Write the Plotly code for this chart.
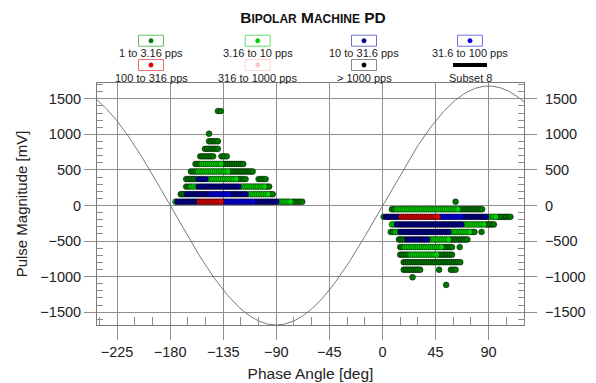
import numpy as np
import plotly.graph_objects as go

# ---------------- data ----------------
TITLE = "BIPOLAR MACHINE PD"
X_TITLE = "Phase Angle [deg]"
Y_TITLE = "Pulse Magnitude [mV]"
X_TICKS = [-225, -180, -135, -90, -45, 0, 45, 90]
Y_TICKS = [-1500, -1000, -500, 0, 500, 1000, 1500]

CATEGORY_LABELS = ["1 to 3.16 pps", "3.16 to 10 pps", "10 to 31.6 pps", "31.6 to 100 pps",
                   "100 to 316 pps", "316 to 1000 pps", "> 1000 pps", "Subset 8"]

PHASE_STEP = 1.8          # deg per phase bin
SINE_AMPLITUDE = 1680     # mV, reference sine

# runs of occupied phase bins: (amplitude bin centre [mV], first phase [deg], last phase [deg])
runs_1_to_3 = [
    (1328, -139.5, -137), (1009, -147, -147), (903, -147, -139.5), (797, -150.5, -139.5),
    (691, -154.5, -143.5), (691, -136.5, -132),
    (584, -158.5, -155), (584, -135, -118),
    (478, -162.4, -158), (478, -129, -110),
    (372, -166.4, -158), (372, -122, -116), (372, -105, -99),
    (266, -166.4, -164), (266, -98, -96),
    (159, -171, -168), (159, -95, -93),
    (53, -76, -68), (53, 62, 62),
    (-53, 8, 10), (-53, 66, 84.5),
    (-159, 1, 1), (-159, 98, 108.5),
    (-266, 88, 94.5),
    (-372, 7, 9), (-372, 76, 78), (-372, 84, 84),
    (-478, 14, 19), (-478, 58, 72),
    (-584, 15, 17), (-584, 52, 59), (-584, 65.5, 65.5),
    (-691, 15, 22), (-691, 48, 59),
    (-797, 18, 66),
    (-903, 18, 32), (-903, 48, 48), (-903, 58, 62),
    (-1009, 25.5, 25.5),
    (-1116, 54, 54),
]
runs_3_to_10 = [
    (584, -153, -137), (478, -156, -131), (372, -148, -124),
    (266, -162, -158), (266, -120, -100),
    (159, -114, -97),
    (53, -175.5, -175.5), (53, -88, -78),
    (-53, 12, 64),
    (-159, 90, 96),
    (-266, 8, 10), (-266, 69, 86),
    (-372, 11, 13), (-372, 58, 74),
    (-478, 40, 56),
    (-584, 19, 50),
    (-691, 24, 46),
]
runs_10_to_31 = [
    (372, -156, -150),
    (266, -156, -122),
    (159, -166, -147), (159, -129, -116),
    (53, -174, -157), (53, -108, -90),
    (-159, 3, 14), (-159, 68, 88),
    (-266, 12, 67),
    (-372, 15, 56),
    (-478, 21, 38),
]
runs_31_to_100 = [
    (159, -145, -131),
    (53, -135, -110),
    (-159, 49, 66),
]
runs_100_to_316 = [
    (53, -155, -137),
    (-159, 16, 47),
]
runs_316_to_1000 = []
runs_over_1000 = []

# ---------------- styling ----------------
COLORS = ["#007800", "#00d400", "#00008c", "#0000e6", "#e00000", "#ffc4c4", "#000000"]
BOX_COLORS = ["#66bb66", "#66dd66", "#7373c4", "#7373f0", "#e87070", "#ffd4d4", "#8a8a8a"]
FONT = "Liberation Sans, Arial, sans-serif"
GRID = "#8e8e8e"

OFF = 8                          # page body margin of the html page
W, H = 596 - OFF, 383 - OFF      # figure size
L, R, T, B = 97 - OFF, 524 - OFF, 83 - OFF, 325 - OFF   # plot area in figure pixels


def expand(runs):
    xs, ys = [], []
    for amp, a, b in runs:
        n = int(round((b - a) / PHASE_STEP)) + 1
        pts = np.linspace(a, b, n) if n > 1 else np.array([a])
        xs.extend(pts.tolist())
        ys.extend([amp] * len(pts))
    return xs, ys


fig = go.Figure()

# reference sine
xs_sine = np.linspace(-242, 120, 500)
fig.add_trace(go.Scatter(x=xs_sine, y=SINE_AMPLITUDE * np.sin(np.radians(xs_sine)),
                         mode="lines", line=dict(color="#6a6a6a", width=0.9),
                         hoverinfo="skip", showlegend=False))

all_runs = [runs_1_to_3, runs_3_to_10, runs_10_to_31, runs_31_to_100,
            runs_100_to_316, runs_316_to_1000, runs_over_1000]
for runs, col, name in zip(all_runs, COLORS, CATEGORY_LABELS):
    x, y = expand(runs)
    fig.add_trace(go.Scatter(x=x, y=y, mode="markers", name=name, showlegend=False,
                             marker=dict(size=5.8, color=col,
                                         line=dict(width=0.6, color="rgba(0,0,0,0.75)"))))

# invisible trace so the right-hand axis is drawn
fig.add_trace(go.Scatter(x=[0], y=[0], yaxis="y2", mode="markers",
                         marker=dict(opacity=0), hoverinfo="skip", showlegend=False))


def pxx(x):   # reference-picture pixel -> paper
    return (x - OFF - L) / (R - L)


def pyy(y):
    return (B - (y - OFF)) / (B - T)


# custom legend (boxes with dots, labels underneath)
col_x = [151, 257.7, 364, 470]
box_y = [40.7, 65]
lab_y = [53.2, 78.2]
shapes, annotations = [], []
for i, label in enumerate(CATEGORY_LABELS):
    r, c = divmod(i, 4)
    cx, cy = col_x[c], box_y[r]
    if i < 7:
        shapes.append(dict(type="rect", xref="paper", yref="paper",
                           x0=pxx(cx - 12.5), x1=pxx(cx + 12.5), y0=pyy(cy + 5.5), y1=pyy(cy - 5.5),
                           line=dict(color=BOX_COLORS[i], width=1), fillcolor="white"))
        shapes.append(dict(type="circle", xref="paper", yref="paper",
                           x0=pxx(cx - 2.2), x1=pxx(cx + 2.2), y0=pyy(cy + 2.2), y1=pyy(cy - 2.2),
                           line=dict(color=COLORS[i], width=0.5), fillcolor=COLORS[i]))
    else:
        shapes.append(dict(type="line", xref="paper", yref="paper",
                           x0=pxx(cx - 17), x1=pxx(cx + 17), y0=pyy(cy), y1=pyy(cy),
                           line=dict(color="black", width=4)))
    annotations.append(dict(text=label, xref="paper", yref="paper", x=pxx(cx), y=pyy(lab_y[r]),
                            xanchor="center", yanchor="middle", showarrow=False,
                            font=dict(family=FONT, size=11, color="#222")))

axis_common = dict(showline=True, linecolor="#7a7a7a", linewidth=1, zeroline=False,
                   automargin=False, ticks="outside", tickcolor=GRID, tickwidth=1,
                   tickfont=dict(family=FONT, size=14.5, color="#222"))

fig.update_layout(
    template="none",
    width=W, height=H,
    margin=dict(l=L, r=W - R, t=T, b=H - B, autoexpand=False),
    paper_bgcolor="white", plot_bgcolor="white",
    title=dict(text="<b>B<span style='font-size:12px'>IPOLAR</span> M<span style='font-size:12px'>ACHINE</span> PD</b>",
               x=(313 - OFF) / W, xanchor="center", xref="container",
               y=1 - (18 - OFF) / H, yanchor="middle", yref="container",
               font=dict(family=FONT, size=15.5, color="#111")),
    xaxis=dict(range=[-242, 120], tickmode="array", tickvals=X_TICKS, mirror=True,
               showgrid=True, gridcolor=GRID, gridwidth=1, ticklen=14,
               minor=dict(dtick=15, tick0=0, ticks="inside", ticklen=8, tickcolor=GRID, showgrid=False),
               title=dict(text=X_TITLE, font=dict(family=FONT, size=15.5, color="#222"), standoff=8),
               **axis_common),
    yaxis=dict(range=[-1680, 1722], tickmode="array", tickvals=Y_TICKS,
               showgrid=True, gridcolor=GRID, gridwidth=1, ticklen=12,
               minor=dict(dtick=100, tick0=0, ticks="inside", ticklen=6, tickcolor=GRID, showgrid=False),
               title=dict(text=Y_TITLE, font=dict(family=FONT, size=15, color="#222"), standoff=9),
               **axis_common),
    yaxis2=dict(range=[-1680, 1722], tickmode="array", tickvals=Y_TICKS, overlaying="y", side="right",
                showgrid=False, ticklen=12, ticklabelstandoff=5,
                minor=dict(dtick=100, tick0=0, ticks="inside", ticklen=6, tickcolor=GRID, showgrid=False),
                **axis_common),
    shapes=shapes, annotations=annotations,
)

fig.write_html("out.html")
